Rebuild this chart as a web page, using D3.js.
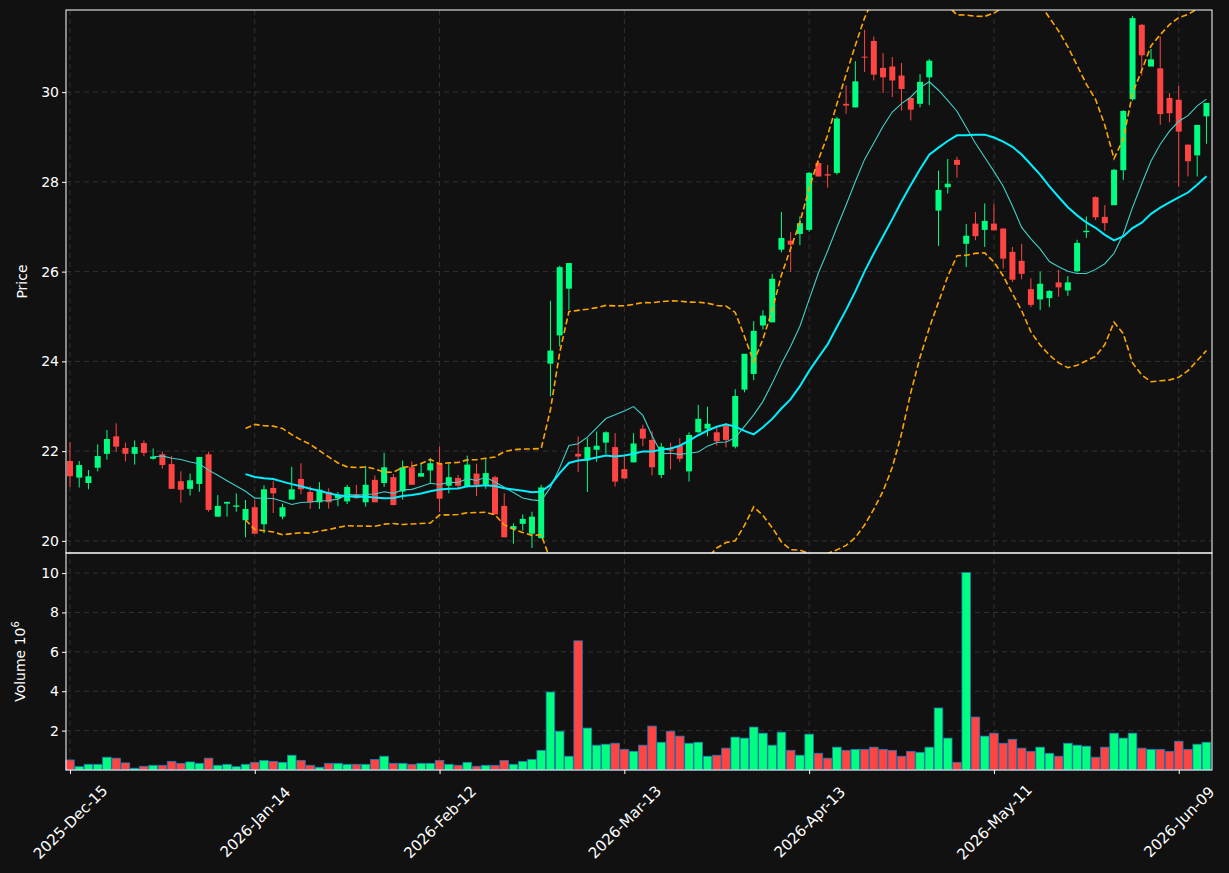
<!DOCTYPE html>
<html>
<head>
<meta charset="utf-8">
<script src="https://cdn.jsdelivr.net/npm/d3@7"></script>
<style>
  body { margin: 0; background: #111111; }
  text { font-family: "DejaVu Sans", sans-serif; }
</style>
</head>
<body>
<div id="chart-area"></div>
<script>
// candle data, one entry per trading day
var opens = [21.78,21.41,21.29,21.63,21.94,22.33,22.07,21.94,22.18,21.83,
  21.93,21.71,21.33,21.16,21.27,21.93,20.54,20.83,20.76,20.46,
  20.75,20.37,21.18,20.54,20.92,21.38,21.09,20.86,21.09,20.95,
  20.88,21.04,20.86,21.36,21.29,21.42,21.10,21.64,21.43,21.57,
  21.72,21.23,21.40,21.20,21.50,21.25,21.42,20.78,20.26,20.38,
  20.16,20.06,23.95,24.58,25.62,21.94,21.79,22.03,22.19,22.09,
  21.60,21.75,22.50,22.25,21.47,22.04,22.12,21.55,22.42,22.50,
  22.42,22.57,22.10,23.37,23.72,24.80,24.87,26.49,26.69,26.84,
  26.93,28.42,28.17,28.20,29.74,29.66,30.79,31.14,30.54,30.57,
  30.37,29.87,29.74,30.33,27.36,27.88,28.49,26.62,27.07,26.93,
  27.07,26.96,26.44,26.24,25.61,25.38,25.41,25.76,25.58,26.01,
  26.88,27.66,27.22,27.48,28.26,29.84,31.50,30.57,30.53,29.87,
  29.83,28.83,28.59,29.46];
var closes = [21.44,21.69,21.44,21.89,22.27,22.10,21.94,22.09,21.96,21.88,
  21.69,21.16,21.14,21.35,21.87,20.69,20.78,20.87,20.79,20.71,
  20.16,21.15,21.06,20.75,21.15,21.15,20.86,21.14,20.86,21.03,
  21.20,20.95,21.25,20.86,21.64,20.80,21.64,21.25,21.51,21.73,
  20.94,21.42,21.23,21.70,21.25,21.51,20.59,20.08,20.33,20.49,
  20.54,21.19,24.24,26.10,26.19,21.88,22.09,22.12,22.42,21.32,
  21.39,22.17,22.28,21.64,22.10,22.01,21.83,22.36,22.72,22.61,
  22.22,22.25,23.23,24.17,24.68,25.02,25.84,26.75,26.60,27.08,
  28.20,28.12,28.14,29.41,29.70,30.24,30.77,30.39,30.33,30.26,
  30.07,29.61,30.23,30.70,27.82,27.96,28.38,26.80,26.79,27.13,
  26.92,26.29,25.82,25.95,25.26,25.73,25.57,25.65,25.76,26.64,
  26.91,27.21,27.08,28.27,29.58,31.65,30.82,30.73,29.51,29.53,
  29.12,28.46,29.27,29.76];
var highs = [22.20,21.78,21.58,22.15,22.47,22.62,22.19,22.24,22.24,22.06,
  21.99,21.89,21.55,21.50,21.87,21.99,21.02,20.87,21.06,20.91,
  20.91,21.24,21.33,20.83,21.65,21.73,21.22,21.31,21.17,21.09,
  21.25,21.25,21.67,21.46,21.96,21.49,21.79,21.77,21.73,21.84,
  22.10,21.71,21.47,21.90,21.72,21.84,21.45,21.06,20.39,20.59,
  20.65,21.25,25.35,26.13,26.19,22.33,22.29,22.44,22.44,22.40,
  21.92,22.40,22.59,22.44,22.18,22.19,22.29,22.42,23.03,22.99,
  22.55,22.62,23.38,23.42,24.90,25.14,25.95,27.33,26.88,27.23,
  28.22,28.46,28.38,29.45,30.15,30.69,31.39,31.24,30.87,30.78,
  30.65,29.87,30.40,30.74,28.25,28.51,28.56,27.06,27.33,27.52,
  27.51,26.96,26.55,26.62,25.85,26.00,25.59,26.04,25.90,26.71,
  27.23,27.68,27.48,28.29,29.60,31.70,31.52,30.96,31.24,29.98,
  30.14,28.83,28.59,29.52];
var lows = [21.20,21.19,21.15,21.55,21.81,21.98,21.77,21.70,21.89,21.81,
  21.61,21.16,20.85,21.01,21.09,20.65,20.54,20.54,20.65,20.08,
  20.16,20.17,20.62,20.48,21.15,21.04,20.71,20.71,20.72,20.77,
  20.82,20.94,20.76,20.86,21.20,20.79,20.92,21.25,21.51,21.29,
  20.64,21.06,21.16,21.19,21.00,21.16,20.59,20.08,19.94,20.23,
  19.84,20.06,23.22,24.33,25.15,21.53,21.09,21.76,21.94,21.21,
  21.39,21.75,22.11,21.46,21.40,21.59,21.76,21.32,22.41,22.33,
  22.12,22.08,22.06,23.31,23.58,24.71,24.87,26.43,25.99,26.59,
  26.89,28.12,27.87,28.16,29.52,29.66,30.45,30.26,29.98,29.89,
  29.59,29.37,29.66,29.71,26.57,27.74,28.09,26.10,26.70,26.55,
  26.92,26.07,25.77,25.83,25.21,25.14,25.21,25.44,25.46,25.98,
  26.75,27.15,26.91,27.48,28.04,29.81,30.37,30.70,29.27,29.33,
  27.89,28.12,28.12,28.85];
var volumes = [0.51,0.17,0.29,0.29,0.65,0.60,0.36,0.09,0.19,0.24,
  0.24,0.44,0.34,0.41,0.34,0.60,0.24,0.29,0.17,0.29,
  0.39,0.49,0.44,0.39,0.75,0.49,0.24,0.14,0.34,0.34,
  0.29,0.29,0.29,0.54,0.70,0.34,0.34,0.29,0.34,0.34,
  0.49,0.29,0.24,0.39,0.19,0.24,0.24,0.49,0.29,0.44,
  0.54,1.00,3.96,1.97,0.70,6.56,2.13,1.26,1.31,1.36,
  1.05,0.95,1.26,2.23,1.41,1.97,1.72,1.36,1.41,0.70,
  0.75,1.11,1.67,1.62,2.18,1.87,1.26,1.92,1.00,0.75,
  1.82,0.85,0.60,1.16,1.00,1.05,1.05,1.16,1.05,1.00,
  0.70,0.95,0.90,1.16,3.15,1.62,0.39,10.03,2.69,1.72,
  1.87,1.36,1.56,1.11,0.95,1.16,0.85,0.70,1.36,1.26,
  1.21,0.65,1.16,1.87,1.62,1.87,1.11,1.05,1.05,0.95,
  1.46,1.05,1.31,1.41];
var tickIdx = [0, 20, 40, 60, 80, 100, 120];
var tickLabels = ["2025-Dec-15","2026-Jan-14","2026-Feb-12","2026-Mar-13","2026-Apr-13","2026-May-11","2026-Jun-09"];
var priceTicks = [20, 22, 24, 26, 28, 30];
var volTicks = [2, 4, 6, 8, 10];

var W = 1229, H = 873;
var left = 66, right = 1212, pTop = 10, pBot = 553, vBot = 770;
var upColor = "#00ff80", downColor = "#ff4444";

var svg = d3.select("#chart-area").append("svg")
  .attr("width", W).attr("height", H)
  .style("background", "#111111");

var xScale = d3.scaleLinear().domain([-0.43, 123.6]).range([left, right]);
var yScale = d3.scaleLinear().domain([19.73, 31.83]).range([pBot, pTop]);
var vScale = d3.scaleLinear().domain([0, 11.02]).range([vBot, pBot]);

var n = closes.length;
var idx = d3.range(n);

// moving averages and bollinger band
function sma(p, i) {
  if (i < p - 1) return null;
  return d3.mean(closes.slice(i - p + 1, i + 1));
}
function sdev(p, i) {
  var s = closes.slice(i - p + 1, i + 1), m = d3.mean(s);
  return Math.sqrt(d3.mean(s, function(v){ return (v - m) * (v - m); }));
}
var ma10 = idx.map(function(i){ return sma(10, i); });
var ma20 = idx.map(function(i){ return sma(20, i); });
var bbUp = idx.map(function(i){ return i < 19 ? null : ma20[i] + 2 * sdev(20, i); });
var bbLo = idx.map(function(i){ return i < 19 ? null : ma20[i] - 2 * sdev(20, i); });

svg.append("defs").append("clipPath").attr("id", "pclip")
  .append("rect").attr("x", left).attr("y", pTop)
  .attr("width", right - left).attr("height", pBot - pTop);

// grid
var grid = svg.append("g").attr("stroke", "#3a3a3a").attr("stroke-dasharray", "5,4").attr("stroke-width", 0.8);
tickIdx.forEach(function(t){
  grid.append("line").attr("x1", xScale(t)).attr("x2", xScale(t)).attr("y1", pTop).attr("y2", vBot);
});
priceTicks.forEach(function(t){
  grid.append("line").attr("x1", left).attr("x2", right).attr("y1", yScale(t)).attr("y2", yScale(t));
});
volTicks.forEach(function(t){
  grid.append("line").attr("x1", left).attr("x2", right).attr("y1", vScale(t)).attr("y2", vScale(t));
});

// volume bars
svg.append("g").selectAll("rect").data(idx).enter().append("rect")
  .attr("x", function(i){ return xScale(i) - 4.3; })
  .attr("width", 8.6)
  .attr("y", function(i){ return vScale(volumes[i]); })
  .attr("height", function(i){ return vBot - vScale(volumes[i]); })
  .attr("fill", function(i){ return closes[i] >= opens[i] ? upColor : downColor; })
  .attr("stroke", "#1f77b4").attr("stroke-width", 0.8);

var pg = svg.append("g").attr("clip-path", "url(#pclip)");

// candles
pg.append("g").selectAll("line").data(idx).enter().append("line")
  .attr("x1", function(i){ return xScale(i); })
  .attr("x2", function(i){ return xScale(i); })
  .attr("y1", function(i){ return yScale(highs[i]); })
  .attr("y2", function(i){ return yScale(lows[i]); })
  .attr("stroke", function(i){ return closes[i] >= opens[i] ? upColor : downColor; })
  .attr("stroke-width", 1);
pg.append("g").selectAll("rect").data(idx).enter().append("rect")
  .attr("x", function(i){ return xScale(i) - 3; })
  .attr("width", 6)
  .attr("y", function(i){ return yScale(Math.max(opens[i], closes[i])); })
  .attr("height", function(i){ return Math.max(1, Math.abs(yScale(opens[i]) - yScale(closes[i]))); })
  .attr("fill", function(i){ return closes[i] >= opens[i] ? upColor : downColor; });

function lineOf(arr) {
  return d3.line()
    .defined(function(i){ return arr[i] !== null; })
    .x(function(i){ return xScale(i); })
    .y(function(i){ return yScale(arr[i]); })(idx);
}
pg.append("path").attr("d", lineOf(ma10)).attr("fill", "none")
  .attr("stroke", "#40d0c8").attr("stroke-width", 1.1);
pg.append("path").attr("d", lineOf(ma20)).attr("fill", "none")
  .attr("stroke", "#00f0ff").attr("stroke-width", 2);
[bbUp, bbLo].forEach(function(b){
  pg.append("path").attr("d", lineOf(b)).attr("fill", "none")
    .attr("stroke", "#ffa500").attr("stroke-width", 1.6).attr("stroke-dasharray", "6,3");
});

// frames
svg.append("rect").attr("x", left).attr("y", pTop).attr("width", right - left).attr("height", pBot - pTop)
  .attr("fill", "none").attr("stroke", "#ffffff").attr("stroke-width", 1);
svg.append("rect").attr("x", left).attr("y", pBot).attr("width", right - left).attr("height", vBot - pBot)
  .attr("fill", "none").attr("stroke", "#ffffff").attr("stroke-width", 1);

// axes
var yAxis = svg.append("g").attr("transform", "translate(" + left + ",0)")
  .call(d3.axisLeft(yScale).tickValues(priceTicks).tickSize(4).tickFormat(d3.format("d")));
var vAxis = svg.append("g").attr("transform", "translate(" + left + ",0)")
  .call(d3.axisLeft(vScale).tickValues(volTicks).tickSize(4).tickFormat(d3.format("d")));
var xAxis = svg.append("g").attr("transform", "translate(0," + vBot + ")")
  .call(d3.axisBottom(xScale).tickValues(tickIdx).tickSize(4)
    .tickFormat(function(d, i){ return tickLabels[i]; }));
[yAxis, vAxis, xAxis].forEach(function(a){
  a.select(".domain").remove();
  a.selectAll("line").attr("stroke", "#ffffff");
  a.selectAll("text").attr("fill", "#ffffff").attr("font-size", "14px")
    .attr("font-family", "DejaVu Sans, sans-serif");
});
xAxis.selectAll("text")
  .attr("font-size", "15px")
  .attr("text-anchor", "middle")
  .attr("y", 0).attr("dy", "0.35em")
  .attr("transform", "translate(0,52) rotate(-45)");

svg.append("text").attr("transform", "translate(27," + ((pTop + pBot) / 2) + ") rotate(-90)")
  .attr("text-anchor", "middle").attr("fill", "#ffffff").attr("font-size", "14px").text("Price");
var vl = svg.append("text").attr("transform", "translate(25," + ((pBot + vBot) / 2) + ") rotate(-90)")
  .attr("text-anchor", "middle").attr("fill", "#ffffff").attr("font-size", "14px");
vl.append("tspan").text("Volume  10");
vl.append("tspan").attr("dy", "-6").attr("font-size", "10px").text("6");
</script>
</body>
</html>
